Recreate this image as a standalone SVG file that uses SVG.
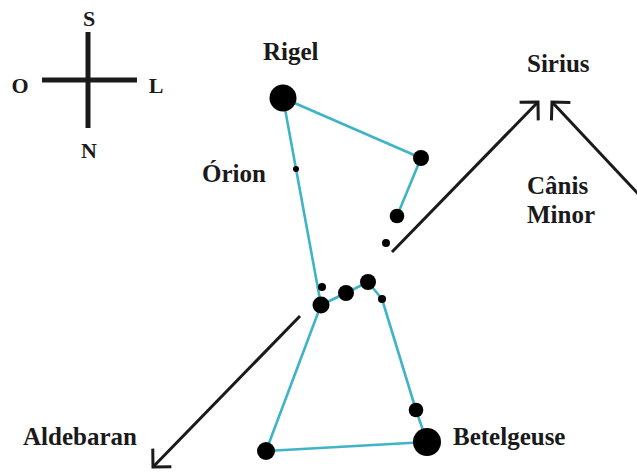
<svg xmlns="http://www.w3.org/2000/svg" width="637" height="472" viewBox="0 0 637 472">
<style>
  .lbl{font-family:"Liberation Serif","Times New Roman",serif;font-weight:bold;font-size:25px;fill:#1a1a1a}
  .cmp{font-family:"Liberation Serif","Times New Roman",serif;font-weight:bold;font-size:22px;fill:#1a1a1a;text-anchor:middle}
  .con{stroke:#3fb4c6;stroke-width:2.6;fill:none;stroke-linejoin:round}
  .arr{stroke:#1a1a1a;stroke-width:3;fill:none}
  .star{fill:#000}
</style>
<defs>
  <marker id="chev" markerUnits="userSpaceOnUse" markerWidth="40" markerHeight="40" refX="0" refY="0" viewBox="-20 -20 40 40" orient="auto" overflow="visible">
    <path d="M-13,-13 L0,0 L-13,13" fill="none" stroke="#1a1a1a" stroke-width="3" stroke-linejoin="miter"/>
  </marker>
</defs>
<rect width="637" height="472" fill="#fff"/>
<g id="compass">
  <line x1="88" y1="32" x2="88" y2="128" stroke="#1a1a1a" stroke-width="5"/>
  <line x1="42" y1="80" x2="137" y2="80" stroke="#1a1a1a" stroke-width="5"/>
  <text class="cmp" x="89" y="26">S</text>
  <text class="cmp" x="20" y="93">O</text>
  <text class="cmp" x="156" y="93">L</text>
  <text class="cmp" x="89" y="158">N</text>
</g>
<g id="connectors">
  <polyline class="con" points="421,158 283,98 321,305 346,293 368,282 382,299 416,410 427,442 266,451 321,305"/>
  <line class="con" x1="421" y1="158" x2="397" y2="216"/>
  <line class="arr" x1="300" y1="316" x2="153" y2="467" marker-end="url(#chev)"/>
  <line class="arr" x1="392" y1="252" x2="538" y2="102" marker-end="url(#chev)"/>
  <line class="arr" x1="642" y1="198" x2="552" y2="102" marker-end="url(#chev)"/>
</g>
<g id="stars">
  <circle class="star" cx="283" cy="98" r="13.5"/>
  <circle class="star" cx="421" cy="158" r="8"/>
  <circle class="star" cx="397" cy="216" r="7.3"/>
  <circle class="star" cx="386" cy="243" r="4"/>
  <circle class="star" cx="296" cy="169" r="3"/>
  <circle class="star" cx="322" cy="287" r="4"/>
  <circle class="star" cx="321" cy="305" r="8.5"/>
  <circle class="star" cx="346" cy="293" r="8"/>
  <circle class="star" cx="368" cy="282" r="8"/>
  <circle class="star" cx="382" cy="299" r="4"/>
  <circle class="star" cx="416" cy="410" r="7.3"/>
  <circle class="star" cx="427" cy="442" r="14"/>
  <circle class="star" cx="266" cy="451" r="9"/>
</g>
<g id="labels">
  <text class="lbl" x="263" y="60">Rigel</text>
  <text class="lbl" x="527" y="72">Sirius</text>
  <text class="lbl" x="202" y="182">Órion</text>
  <text class="lbl" x="527" y="194">Cânis</text>
  <text class="lbl" x="527" y="223">Minor</text>
  <text class="lbl" x="23" y="445">Aldebaran</text>
  <text class="lbl" x="453" y="445">Betelgeuse</text>
</g>
</svg>
